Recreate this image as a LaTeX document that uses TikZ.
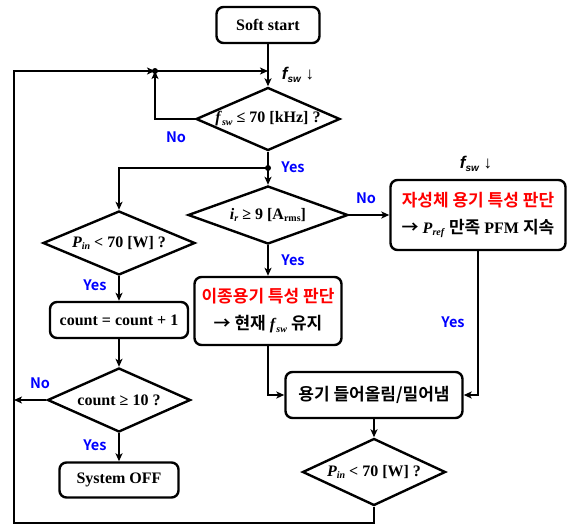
\documentclass[tikz,border=0pt]{standalone}
\usepackage{fontspec}
\setmainfont{Liberation Serif}
\newfontfamily\kr{Noto Sans CJK KR}[BoldFont={Noto Sans CJK KR Bold}]
\newfontfamily\lsans{Liberation Sans}
\usepackage{tikz}
\usetikzlibrary{shapes.geometric,arrows.meta,calc,positioning}
\newcommand{\lowidx}[1]{\raisebox{-0.35ex}{\fontsize{10}{10}\selectfont #1}}
\newcommand{\krtxt}[1]{{\kr\fontsize{17}{27}\selectfont #1}}

\begin{document}
\begin{tikzpicture}[x=1pt, y=-1pt, line width=2.4pt, >={Stealth[length=8pt,width=7pt,inset=2pt]}]
	\tikzstyle{every node} = [font=\bfseries\fontsize{16}{27}\selectfont, align=center]
	\tikzstyle{box} = [rectangle, rounded corners=7pt, draw=black, line width=2.4pt, inner sep=0pt]
	\tikzstyle{dia} = [diamond, draw=black, line width=2.4pt, inner sep=0pt]
	\tikzstyle{yn} = [font=\kr\bfseries\fontsize{14.5}{14}\selectfont, text=blue]
	\tikzstyle{fsw} = [font=\lsans\bfseries\fontsize{17}{17}\selectfont]
\useasboundingbox (0,0) rectangle (569,525);
\node[box, minimum width=103, minimum height=36] (1) at (268,25) {Soft start};
\node[dia, minimum width=144, minimum height=63, label={center:\textit{f}\lowidx{\textit{sw}} ≤ 70 [kHz] ?}] (2) at (268,119) {};
\node[dia, minimum width=160, minimum height=58, label={center:\textit{i}\lowidx{\textit{r}} ≥ 9 [A\lowidx{rms}]}] (3) at (268,215) {};
\node[dia, minimum width=152, minimum height=64, label={center:\textit{P}\lowidx{\textit{in}} < 70 [W] ?}] (4) at (119,243) {};
\node[box, minimum width=138, minimum height=36] (5) at (119,320) {count = count + 1};
\node[dia, minimum width=143, minimum height=64, label={center:count ≥ 10 ?}] (6) at (119,400) {};
\node[box, minimum width=119, minimum height=35] (7) at (119,480) {System OFF};
\node[box, minimum width=175, minimum height=70] (8) at (478,215)
	{\textcolor{red}{\krtxt{자성체 용기 특성 판단}}\\\krtxt{→} \textit{P}\lowidx{\textit{ref}} \krtxt{만족} PFM \krtxt{지속}};
\node[box, minimum width=147, minimum height=68] (9) at (268,311)
	{\textcolor{red}{\krtxt{이종용기 특성 판단}}\\\krtxt{→ 현재} \textit{f}\lowidx{\textit{sw}} \krtxt{유지}};
\node[box, minimum width=177, minimum height=46] (10) at (374,395) {\krtxt{용기 들어올림/밀어냄}};
\node[dia, minimum width=143, minimum height=67, label={center:\textit{P}\lowidx{\textit{in}} < 70 [W] ?}] (11) at (374,472) {};
\coordinate (c1) at (14,71);
\coordinate (c2) at (155,71);
\coordinate (c3) at (268,168);
\coordinate (c4) at (14,523);
	\path[draw,->] (1) -- (2);
	\path[draw,->] (11.south) |- (c4) -- (c1) -- (c2);
	\path[draw,->] (c2) -- (c2 -| 1);
	\path[draw,->] (2.west) -| (c2);
	\path[draw] (2.south) -- (c3);
	\path[draw,->] (c3) -- (3.north);
	\path[draw,->] (c3) -| (4.north);
	\path[draw,->] (4) -- (5);
	\path[draw,->] (5) -- (6);
	\path[draw,->] (6) -- (7);
	\path[draw,->] (6.west) -- (6.west -| c1);
	\path[draw,->] (3.east) -- (8.west);
	\path[draw,->] (3) -- (9);
	\path[draw,->] (9.south) |- (10.west);
	\path[draw,->] (8.south) |- (10.east);
	\path[draw,->] (10) -- (11);
	\fill (c2) circle (3pt);
	\fill (c3) circle (3pt);
\node[fsw] (f1) at (298,75) {{\itshape f\lowidx{sw}} {\mdseries ↓}};
\node[fsw] (f2) at (476,164) {{\itshape f\lowidx{sw}} {\mdseries ↓}};
\node[yn] (n1) at (176,137) {No};
\node[yn] (n2) at (293,167) {Yes};
\node[yn] (n3) at (366,198) {No};
\node[yn] (n4) at (293,260) {Yes};
\node[yn] (n5) at (453,322) {Yes};
\node[yn] (n6) at (95,285) {Yes};
\node[yn] (n7) at (40,383) {No};
\node[yn] (n8) at (95,445) {Yes};
\end{tikzpicture}
\end{document}
